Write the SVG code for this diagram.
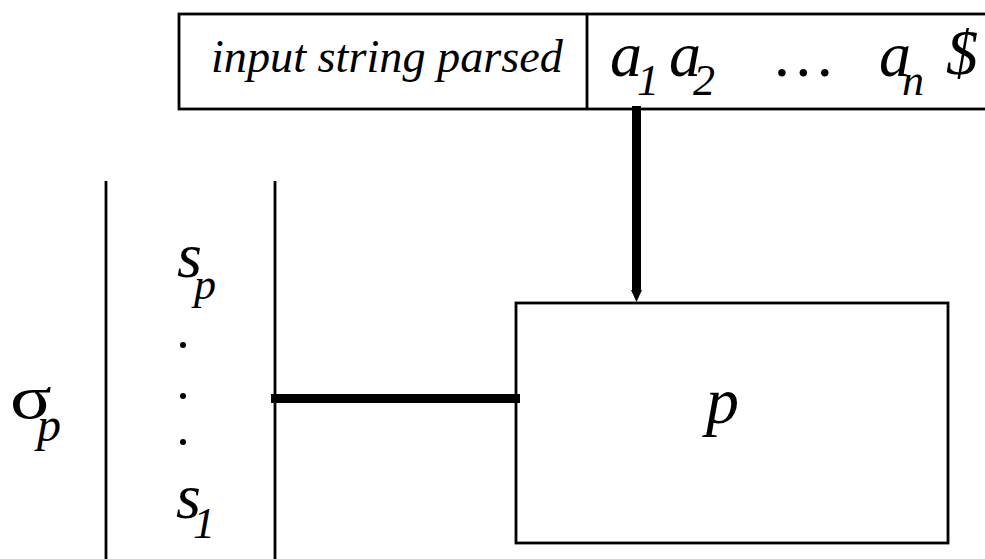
<svg xmlns="http://www.w3.org/2000/svg" width="985" height="559" viewBox="0 0 985 559">
<style>
.ln{fill:none;stroke:#000;stroke-width:2.8}
.t{font-family:'Liberation Serif','Times New Roman',serif;font-style:italic;fill:#000}
.u{font-family:'Liberation Serif','Times New Roman',serif;fill:#000}
.conn{stroke:#000;stroke-width:9;fill:none}
</style>
<rect width="985" height="559" fill="#fff"/>
<g id="input">
<rect class="ln" x="179" y="14" width="820" height="95"/>
<line class="ln" x1="587" y1="14" x2="587" y2="109"/>
<text class="t" x="211" y="72" font-size="46" textLength="352" lengthAdjust="spacingAndGlyphs">input string parsed</text>
<text class="t" x="610" y="76" font-size="64">a</text>
<text class="t" x="637" y="95" font-size="44">1</text>
<text class="t" x="669" y="76" font-size="64">a</text>
<text class="t" x="693" y="95" font-size="44">2</text>
<text class="t" x="776" y="76" font-size="64">…</text>
<text class="t" x="879" y="76" font-size="64">a</text>
<text class="t" x="902" y="95" font-size="44">n</text>
<text class="t" x="946" y="74" font-size="64">$</text>
</g>
<g id="stack">
<line class="ln" x1="106" y1="181" x2="106" y2="559"/>
<line class="ln" x1="275" y1="181" x2="275" y2="559"/>
<text class="u" font-size="62" transform="translate(10,418) scale(1.25,1)">σ</text>
<text class="t" x="37" y="441" font-size="48">p</text>
<text class="t" x="177" y="277" font-size="64">s</text>
<text class="t" x="194" y="299" font-size="44">p</text>
<circle cx="183" cy="345" r="3" fill="#000"/>
<circle cx="183" cy="396" r="3" fill="#000"/>
<circle cx="183" cy="442" r="3" fill="#000"/>
<text class="t" x="176" y="518" font-size="64">s</text>
<text class="t" x="193" y="538" font-size="44">1</text>
</g>
<g id="p">
<rect class="ln" x="516" y="303" width="432" height="240"/>
<text class="t" x="706" y="423" font-size="66">p</text>
</g>
<g id="connectors">
<line class="conn" x1="636.5" y1="106" x2="636.5" y2="291"/>
<path d="M631,290 L642,290 L636.5,302 z" fill="#000"/>
<line class="conn" x1="271" y1="398.5" x2="520" y2="398.5"/>
</g>
</svg>
